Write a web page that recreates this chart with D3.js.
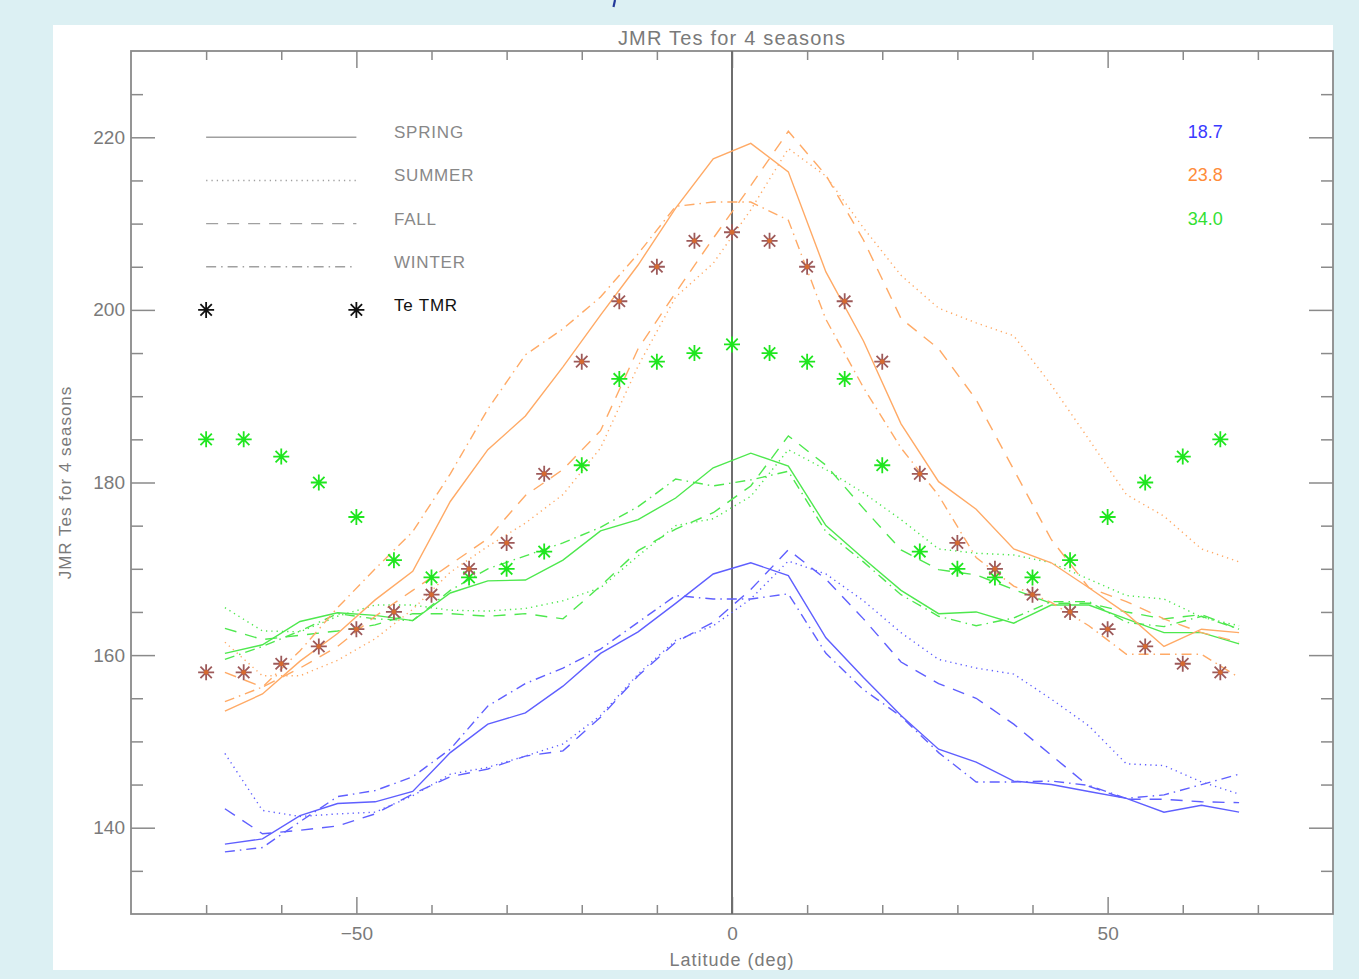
<!DOCTYPE html>
<html>
<head>
<meta charset="utf-8">
<script src="https://cdn.jsdelivr.net/npm/d3@7"></script>
<style>
  body { margin: 0; background: #dcf0f3; }
  svg { display: block; font-family: "Liberation Sans", Arial, sans-serif; }
</style>
</head>
<body>
<svg id="chart"></svg>
<script>
// latitude grid of the seasonal curves
const lat = [-67.5, -62.5, -57.5, -52.5, -47.5, -42.5, -37.5, -32.5, -27.5, -22.5, -17.5, -12.5, -7.5, -2.5,
  2.5, 7.5, 12.5, 17.5, 22.5, 27.5, 32.5, 37.5, 42.5, 47.5, 52.5, 57.5, 62.5, 67.5];

const blueSpring = [138.1, 138.7, 141.4, 142.8, 143.0, 144.2, 148.7, 152.0, 153.3, 156.4, 160.2, 162.7, 166.0, 169.4,
  170.7, 169.2, 162.0, 157.4, 153.0, 149.1, 147.6, 145.4, 145.0, 144.2, 143.4, 141.8, 142.6, 141.8];
const blueSummer = [148.6, 142.0, 141.3, 141.6, 141.8, 143.7, 146.2, 147.0, 148.3, 149.7, 153.0, 157.8, 161.7, 163.4,
  166.5, 170.9, 169.4, 166.3, 162.6, 159.5, 158.5, 157.8, 154.9, 151.8, 147.4, 147.2, 145.3, 143.9];
const blueFall = [142.2, 139.3, 139.7, 140.2, 141.6, 143.9, 145.9, 146.8, 148.3, 148.9, 152.8, 157.6, 161.5, 163.8,
  167.6, 172.2, 168.8, 164.2, 159.2, 156.7, 155.0, 152.0, 148.4, 144.8, 143.3, 143.3, 143.0, 142.9];
const blueWinter = [137.2, 137.7, 140.7, 143.6, 144.3, 145.9, 149.1, 154.1, 156.7, 158.5, 160.7, 163.8, 166.9, 166.5,
  166.5, 167.1, 160.2, 156.0, 152.9, 148.7, 145.3, 145.3, 145.4, 144.9, 143.4, 143.8, 145.0, 146.2];

const greenSpring = [160.2, 161.2, 163.9, 164.9, 164.6, 164.0, 167.2, 168.6, 168.7, 171.0, 174.4, 175.7, 178.2, 181.7,
  183.4, 181.9, 175.0, 171.2, 167.5, 164.8, 165.0, 163.7, 165.8, 165.8, 164.2, 162.6, 162.6, 161.3];
const greenSummer = [165.5, 162.8, 162.7, 164.5, 165.8, 165.8, 165.2, 165.1, 165.4, 166.3, 167.8, 171.5, 175.0, 175.8,
  178.4, 183.8, 181.5, 178.8, 175.7, 172.3, 171.8, 171.6, 170.7, 168.8, 166.9, 166.5, 164.4, 163.4];
const greenFall = [163.1, 161.8, 162.3, 162.8, 163.5, 164.8, 164.8, 164.5, 164.8, 164.2, 168.0, 172.1, 174.6, 176.5,
  179.6, 185.4, 182.0, 177.0, 172.2, 169.9, 169.3, 167.6, 166.0, 166.0, 165.0, 164.2, 164.7, 163.0];
const greenWinter = [159.5, 161.0, 162.8, 164.8, 164.2, 164.0, 167.5, 170.0, 171.5, 173.0, 174.8, 177.2, 180.4, 179.6,
  180.3, 181.3, 174.3, 170.8, 167.0, 164.5, 163.4, 164.3, 166.2, 166.2, 163.8, 163.3, 164.5, 163.0];

const orangeSpring = [153.5, 155.5, 159.3, 162.5, 166.4, 169.7, 177.8, 183.8, 187.7, 193.4, 199.4, 205.2, 211.8, 217.5,
  219.3, 216.0, 204.4, 196.4, 186.8, 180.1, 176.9, 172.3, 170.7, 167.8, 164.8, 161.0, 163.0, 162.6];
const orangeSummer = [161.5, 157.6, 157.6, 159.4, 161.9, 165.3, 169.6, 172.6, 175.3, 178.6, 184.0, 193.5, 201.5, 205.4,
  211.6, 218.7, 215.5, 209.5, 204.0, 200.2, 198.5, 197.0, 191.3, 185.0, 178.6, 176.1, 172.3, 170.8];
const orangeFall = [158.0, 156.3, 158.5, 161.0, 164.5, 167.5, 170.5, 173.5, 178.5, 181.5, 186.0, 195.5, 202.0, 208.3,
  214.4, 220.7, 215.6, 208.1, 199.0, 195.5, 189.6, 181.5, 173.4, 167.8, 166.2, 164.2, 162.6, 161.5];
const orangeWinter = [154.6, 156.3, 160.5, 165.5, 170.0, 174.3, 181.0, 188.5, 194.8, 197.8, 201.5, 206.5, 212.0, 212.5,
  212.5, 210.4, 198.9, 191.0, 184.0, 178.5, 171.3, 168.0, 166.1, 163.4, 160.1, 160.1, 160.1, 157.4];

// asterisk markers
const markerLat = [-70, -65, -60, -55, -50, -45, -40, -35, -30, -25, -20, -15, -10, -5,
  0, 5, 10, 15, 20, 25, 30, 35, 40, 45, 50, 55, 60, 65];
const tmrValues = [158, 158, 159, 161, 163, 165, 167, 170, 173, 181, 194, 201, 205, 208,
  209, 208, 205, 201, 194, 181, 173, 170, 167, 165, 163, 161, 159, 158];
const greenMarks = [185, 185, 183, 180, 176, 171, 169, 169, 170, 172, 182, 192, 194, 195,
  196, 195, 194, 192, 182, 172, 170, 169, 169, 171, 176, 180, 183, 185];

const seasons = ["SPRING", "SUMMER", "FALL", "WINTER"];
const legendValues = ["18.7", "23.8", "34.0"];
const xTickLabels = [-50, 0, 50];
const yTickLabels = [140, 160, 180, 200, 220];

const width = 1359;
const height = 979;
const plot = { left: 131, right: 1333, top: 51, bottom: 914 };

const colors = { blue: "#5f5fff", orange: "#ffaa66", green: "#4ee84e" };
const dash = {
  SPRING: null,
  SUMMER: "1.3,4",
  FALL: "12,9",
  WINTER: "10,5,1.5,5"
};

const svg = d3.select("#chart")
  .attr("width", width)
  .attr("height", height);

svg.append("rect")
  .attr("x", 53).attr("y", 25)
  .attr("width", 1280).attr("height", 945)
  .attr("fill", "#fff");

// tail of a heading that sits above the view
svg.append("path")
  .attr("d", "M615,0L613.5,7")
  .attr("stroke", "#23399a")
  .attr("stroke-width", 2.2);

const x = d3.scaleLinear().domain([-80, 80]).range([plot.left, plot.right]);
const y = d3.scaleLinear().domain([130, 230]).range([plot.bottom, plot.top]);

const axisColor = "#8a8a8a";
const tenSteps = [-70, -60, -40, -30, -20, -10, 10, 20, 30, 40, 60, 70];
const fiveSteps = [135, 145, 150, 155, 165, 170, 175, 185, 190, 195, 205, 210, 215, 225];

function styleAxis(g) {
  g.select(".domain").remove();
  g.selectAll("line").attr("stroke", axisColor).attr("stroke-width", 1.5);
  g.selectAll("text").attr("fill", "#7a7a7a").attr("font-size", 19);
}

// bottom
svg.append("g")
  .attr("transform", `translate(0,${plot.bottom})`)
  .call(d3.axisBottom(x).tickValues(tenSteps).tickSize(-9).tickFormat(""))
  .call(styleAxis);
svg.append("g")
  .attr("transform", `translate(0,${plot.bottom})`)
  .call(d3.axisBottom(x).tickValues(xTickLabels).tickSize(-17).tickPadding(13).tickFormat(d3.format("d")))
  .call(styleAxis);
// top
svg.append("g")
  .attr("transform", `translate(0,${plot.top})`)
  .call(d3.axisTop(x).tickValues(tenSteps).tickSize(-9).tickFormat(""))
  .call(styleAxis);
svg.append("g")
  .attr("transform", `translate(0,${plot.top})`)
  .call(d3.axisTop(x).tickValues(xTickLabels).tickSize(-17).tickFormat(""))
  .call(styleAxis);
// left
svg.append("g")
  .attr("transform", `translate(${plot.left},0)`)
  .call(d3.axisLeft(y).tickValues(fiveSteps).tickSize(-12).tickFormat(""))
  .call(styleAxis);
svg.append("g")
  .attr("transform", `translate(${plot.left},0)`)
  .call(d3.axisLeft(y).tickValues(yTickLabels).tickSize(-24).tickPadding(6).tickFormat(d3.format("d")))
  .call(styleAxis);
// right
svg.append("g")
  .attr("transform", `translate(${plot.right},0)`)
  .call(d3.axisRight(y).tickValues(fiveSteps).tickSize(-12).tickFormat(""))
  .call(styleAxis);
svg.append("g")
  .attr("transform", `translate(${plot.right},0)`)
  .call(d3.axisRight(y).tickValues(yTickLabels).tickSize(-24).tickFormat(""))
  .call(styleAxis);

svg.append("rect")
  .attr("x", plot.left).attr("y", plot.top)
  .attr("width", plot.right - plot.left).attr("height", plot.bottom - plot.top)
  .attr("fill", "none")
  .attr("stroke", axisColor)
  .attr("stroke-width", 1.8);

// equator
svg.append("line")
  .attr("x1", x(0)).attr("x2", x(0))
  .attr("y1", y(230)).attr("y2", y(130))
  .attr("stroke", "#6e6e6e")
  .attr("stroke-width", 2);

svg.append("text")
  .attr("x", x(0)).attr("y", 45)
  .attr("text-anchor", "middle")
  .attr("font-size", 20)
  .attr("letter-spacing", 1.2)
  .attr("fill", "#7a7a7a")
  .text("JMR Tes for 4 seasons");

svg.append("text")
  .attr("transform", `translate(71,${y(180)}) rotate(-90)`)
  .attr("text-anchor", "middle")
  .attr("font-size", 17)
  .attr("letter-spacing", 1)
  .attr("fill", "#7a7a7a")
  .text("JMR Tes for 4 seasons");

svg.append("text")
  .attr("x", x(0)).attr("y", 966)
  .attr("text-anchor", "middle")
  .attr("font-size", 18)
  .attr("letter-spacing", 1)
  .attr("fill", "#7a7a7a")
  .text("Latitude (deg)");

// curves
const series = [
  { color: colors.blue, season: "SPRING", values: blueSpring },
  { color: colors.blue, season: "SUMMER", values: blueSummer },
  { color: colors.blue, season: "FALL", values: blueFall },
  { color: colors.blue, season: "WINTER", values: blueWinter },
  { color: colors.green, season: "SPRING", values: greenSpring },
  { color: colors.green, season: "SUMMER", values: greenSummer },
  { color: colors.green, season: "FALL", values: greenFall },
  { color: colors.green, season: "WINTER", values: greenWinter },
  { color: colors.orange, season: "SPRING", values: orangeSpring },
  { color: colors.orange, season: "SUMMER", values: orangeSummer },
  { color: colors.orange, season: "FALL", values: orangeFall },
  { color: colors.orange, season: "WINTER", values: orangeWinter }
];

const line = d3.line()
  .x((d, i) => x(lat[i]))
  .y(d => y(d));

svg.append("g")
  .selectAll("path")
  .data(series)
  .join("path")
  .attr("d", d => line(d.values))
  .attr("fill", "none")
  .attr("stroke", d => d.color)
  .attr("stroke-width", 1.4)
  .attr("stroke-dasharray", d => dash[d.season]);

const star = "M0,-8V8M-8,0H8M-5.7,-5.7L5.7,5.7M-5.7,5.7L5.7,-5.7";

svg.append("g")
  .selectAll("path")
  .data(greenMarks)
  .join("path")
  .attr("transform", (d, i) => `translate(${x(markerLat[i])},${y(d)})`)
  .attr("d", star)
  .attr("fill", "none")
  .attr("stroke", "#1fe61f")
  .attr("stroke-width", 1.8);

const tmr = svg.append("g")
  .selectAll("g")
  .data(tmrValues)
  .join("g")
  .attr("transform", (d, i) => `translate(${x(markerLat[i])},${y(d)})`);
tmr.append("path")
  .attr("d", star)
  .attr("fill", "none")
  .attr("stroke", "#9d5a5a")
  .attr("stroke-width", 1.8);
tmr.append("circle")
  .attr("r", 2.4)
  .attr("fill", "#d66a30");

// legend
const legendY = [220, 215, 210, 205];
const legend = svg.append("g");
seasons.forEach((s, i) => {
  legend.append("line")
    .attr("x1", x(-70)).attr("x2", x(-50))
    .attr("y1", y(legendY[i])).attr("y2", y(legendY[i]))
    .attr("stroke", "#a0a0a0")
    .attr("stroke-width", 1.4)
    .attr("stroke-dasharray", dash[s]);
  legend.append("text")
    .attr("x", x(-45)).attr("y", y(legendY[i]) + 1)
    .attr("font-size", 17)
    .attr("letter-spacing", 0.8)
    .attr("fill", "#888")
    .text(s);
});
[-70, -50].forEach(v => {
  legend.append("path")
    .attr("transform", `translate(${x(v)},${y(200)})`)
    .attr("d", star)
    .attr("fill", "none")
    .attr("stroke", "#111")
    .attr("stroke-width", 1.8);
});
legend.append("text")
  .attr("x", x(-45)).attr("y", y(200) + 1)
  .attr("font-size", 17)
  .attr("letter-spacing", 0.8)
  .attr("fill", "#111")
  .text("Te TMR");

const valueColors = ["#3a3aff", "#ff8c3a", "#33e033"];
legendValues.forEach((v, i) => {
  svg.append("text")
    .attr("x", x(63)).attr("y", y(legendY[i]) + 1)
    .attr("text-anchor", "middle")
    .attr("font-size", 18)
    .attr("fill", valueColors[i])
    .text(v);
});
</script>
</body>
</html>
